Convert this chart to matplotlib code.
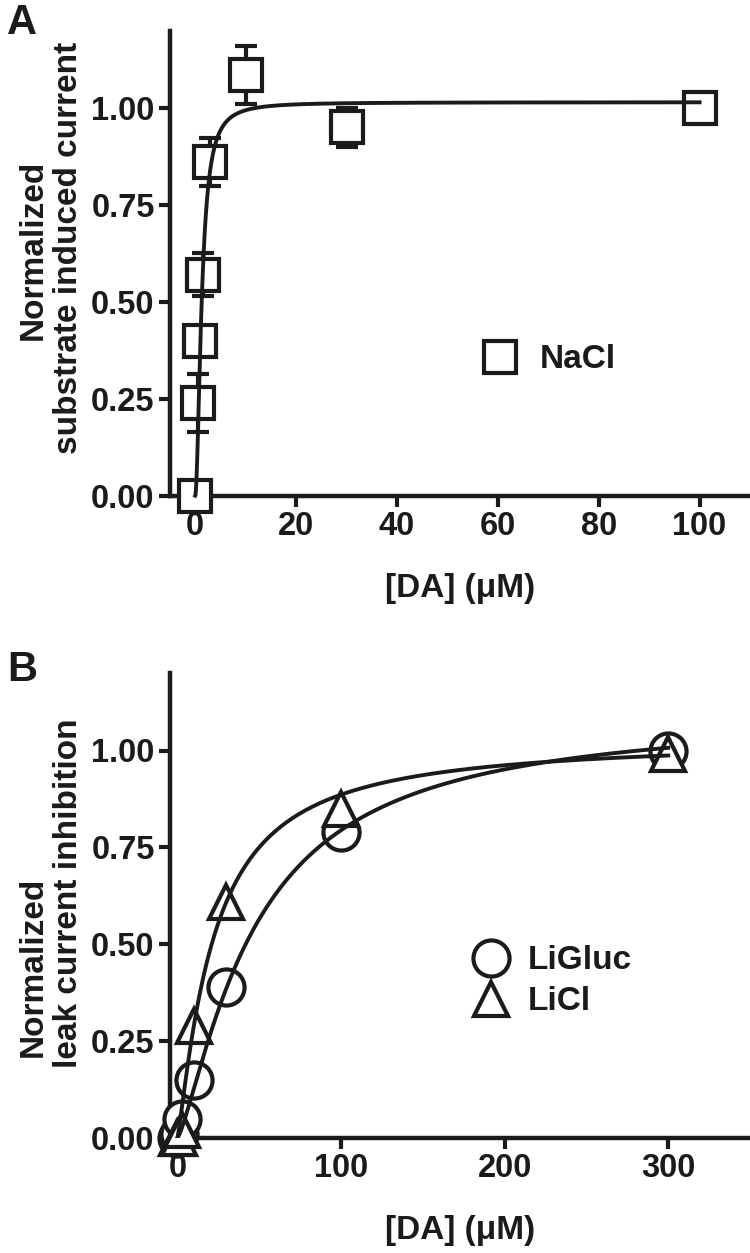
import numpy as np
import matplotlib.pyplot as plt
from matplotlib.lines import Line2D

plt.rcParams['font.family'] = ['Liberation Sans', 'DejaVu Sans']
plt.rcParams['font.weight'] = 'bold'

ink = '#1c1a1b'

# panel A - substrate induced current in NaCl
da_a = [0, 0.5, 1, 1.5, 3, 10, 30, 100]
nacl = [0.0, 0.24, 0.40, 0.57, 0.86, 1.085, 0.95, 1.0]
nacl_sem = [0.0, 0.075, 0.03, 0.055, 0.062, 0.075, 0.05, 0.01]
nacl_fit = (1.015, 1.3, 1.9)   # vmax, k, hill n

# panel B - leak current inhibition
da_b = [0, 1, 3, 10, 30, 100, 300]
ligluc = [0.0, 0.01, 0.05, 0.15, 0.39, 0.79, 1.0]
licl = [0.0, 0.0, 0.02, 0.29, 0.61, 0.85, 0.99]
ligluc_fit = (1.1, 48, 1.3)
licl_fit = (1.03, 22, 1.2)

yticks = [0, 0.25, 0.5, 0.75, 1.0]
xticks_a = [0, 20, 40, 60, 80, 100]
xticks_b = [0, 100, 200, 300]


def hill(x, p):
    vmax, k, n = p
    return vmax * x ** n / (k ** n + x ** n)


def style(ax, xlim, xticks):
    ax.set_xlim(*xlim)
    ax.set_ylim(0, 1.2)
    ax.set_xticks(xticks)
    ax.set_yticks(yticks)
    ax.set_yticklabels(['%.2f' % v for v in yticks])
    for s in ['top', 'right']:
        ax.spines[s].set_visible(False)
    for s in ['left', 'bottom']:
        ax.spines[s].set_linewidth(3.2)
        ax.spines[s].set_color(ink)
    ax.tick_params(direction='out', length=8, width=3, color=ink,
                   labelsize=23.5, labelcolor=ink, pad=3)
    ax.set_xlabel('[DA] (μM)', fontsize=24, fontweight='bold', color=ink,
                  labelpad=22)


fig = plt.figure(figsize=(7.5, 12.53), dpi=100)
W, H = 750.0, 1253.0

axA = fig.add_axes([170 / W, (H - 495.7) / H, 580 / W, 465.2 / H])
axB = fig.add_axes([170 / W, (H - 1138) / H, 580 / W, 465 / H])

mk = dict(linestyle='none', mfc='white', mec=ink, mew=3, clip_on=False)

# A
axA.errorbar(da_a, nacl, yerr=nacl_sem, fmt='none', ecolor=ink,
             elinewidth=3, capsize=8, capthick=3, zorder=2, clip_on=False)
axA.plot(da_a, nacl, marker='s', ms=23, zorder=3, **mk)
xa = np.concatenate([[0], np.geomspace(0.01, max(da_a), 500)])
axA.plot(xa, hill(xa, nacl_fit), color=ink, lw=2.8, zorder=4,
         clip_on=False)
style(axA, (-5, 110), xticks_a)

h = [Line2D([], [], marker='s', ms=23, **mk)]
axA.legend(h, ['NaCl'], loc='center left', bbox_to_anchor=(0.54, 0.292),
           frameon=False, handlelength=1.0, handletextpad=0.7,
           borderpad=0, borderaxespad=0, prop={'size': 24, 'weight': 'bold'},
           labelcolor=ink)

# B
axB.plot(da_b, ligluc, marker='o', ms=26, zorder=3, **mk)
axB.plot(da_b, licl, marker='^', ms=24, zorder=3, **mk)
xb = np.concatenate([[0], np.geomspace(0.05, max(da_b), 500)])
axB.plot(xb, hill(xb, ligluc_fit), color=ink, lw=2.8, zorder=4)
axB.plot(xb, hill(xb, licl_fit), color=ink, lw=2.8, zorder=4)
style(axB, (-4.5, 350), xticks_b)

hb = [Line2D([], [], marker='o', ms=26, **mk),
      Line2D([], [], marker='^', ms=24, **mk)]
axB.legend(hb, ['LiGluc', 'LiCl'], loc='center left',
           bbox_to_anchor=(0.524, 0.337), frameon=False, handlelength=1.0,
           handletextpad=0.6, labelspacing=0.3, borderpad=0,
           borderaxespad=0, prop={'size': 24, 'weight': 'bold'},
           labelcolor=ink)

# two-line y labels
fig.text(33 / W, 1 - 250 / H, 'Normalized', rotation=90, ha='center',
         va='center', fontsize=24, color=ink)
fig.text(69 / W, 1 - 248 / H, 'substrate induced current', rotation=90,
         ha='center', va='center', fontsize=24, color=ink)
fig.text(33 / W, 1 - 967 / H, 'Normalized', rotation=90, ha='center',
         va='center', fontsize=24, color=ink)
fig.text(69 / W, 1 - 893 / H, 'leak current inhibition', rotation=90,
         ha='center', va='center', fontsize=24, color=ink)

fig.text(7 / W, 1 - 3 / H, 'A', fontsize=30, va='top', color=ink)
fig.text(7 / W, 1 - 650 / H, 'B', fontsize=30, va='top', color=ink)

fig.savefig('out.png', dpi=100)
